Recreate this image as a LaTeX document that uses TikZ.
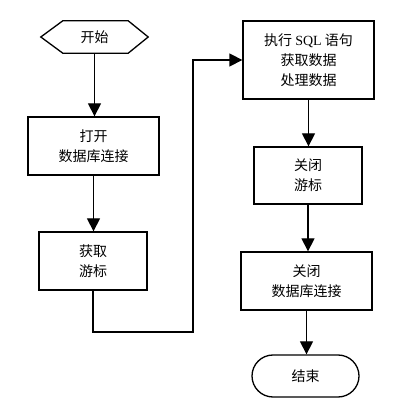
\documentclass[tikz,border=0pt]{standalone}
\usepackage{fontspec}
\newfontfamily\cjk{Noto Sans CJK SC}
\newfontfamily\lat{Liberation Serif}
\usetikzlibrary{arrows.meta,calc}
\begin{document}
\begin{tikzpicture}[x=1pt,y=1pt,
  every node/.style={font=\cjk\fontsize{14}{20}\selectfont, align=center, inner sep=0pt},
  box/.style={draw, line width=1.3pt, minimum height=58pt},
  wide/.style={box, minimum width=131pt},
  narrow/.style={box, minimum width=108pt},
  arr/.style={line width=1.3pt, -{Triangle[length=13pt,width=13pt]}},
  line/.style={line width=1.3pt}]
\useasboundingbox (0,0) rectangle (419,403);
\fill[white] (0,0) rectangle (419,403);
% start hexagon
\node[minimum width=107pt, minimum height=32pt] (start) at (94.5,366) {开始};
\draw[line, line join=miter] (start.west) -- ($(start.north west)+(22,0)$) -- ($(start.north east)+(-20,0)$)
  -- (start.east) -- ($(start.south east)+(-20,0)$) -- ($(start.south west)+(22,0)$) -- cycle;
\node[wide] (open) at (93.5,257) {打开\\数据库连接};
\node[narrow] (get) at (93,142) {获取\\游标};
\node[wide, minimum height=78pt] (exec) at (308.5,343) {执行 {\lat SQL} 语句\\获取数据\\处理数据};
\node[narrow, minimum height=57pt] (closec) at (308,227.5) {关闭\\游标};
\node[wide] (closedb) at (306.5,122) {关闭\\数据库连接};
\node[draw, line width=1.3pt, rounded corners=21pt, minimum width=107pt, minimum height=42pt] (end) at (305.5,27) {结束};
\coordinate (c1) at (193,71);
\draw[arr] (start.south) -- (start.south |- open.north);
\draw[arr] (open.south) -- (open.south |- get.north);
\draw[arr] (get.south) |- (c1) |- (exec.west);
\draw[arr] (exec.south) -- (exec.south |- closec.north);
\draw[arr] (closec.south) -- (closec.south |- closedb.north);
\draw[arr] (closedb.south) -- (closedb.south |- end.north);
\end{tikzpicture}
\end{document}
